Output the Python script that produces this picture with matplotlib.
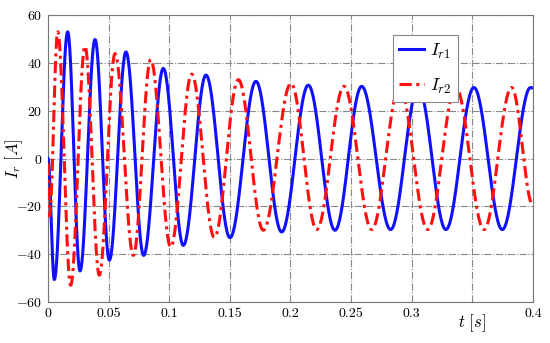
import numpy as np
import matplotlib
matplotlib.use("Agg")
import matplotlib.pyplot as plt

plt.rcParams['font.family'] = ['cmr10', 'DejaVu Serif']
plt.rcParams['mathtext.fontset'] = 'cm'
plt.rcParams['axes.unicode_minus'] = False
plt.rcParams['axes.formatter.use_mathtext'] = True

# turning points (time in s, current in A)
t_r1 = [0.0, 0.0052, 0.0162, 0.0264, 0.0388, 0.0506, 0.0643, 0.0789, 0.0951,
        0.1116, 0.1303, 0.1501, 0.1715, 0.1927, 0.2147, 0.2367, 0.2587,
        0.2826, 0.3054, 0.3282, 0.3513, 0.3747, 0.398, 0.4]
i_r1 = [0.0, -50.6, 53.0, -47.0, 49.8, -42.5, 44.6, -40.5, 37.7,
        -36.3, 34.9, -33.1, 32.3, -30.7, 30.7, -30.0, 30.2,
        -29.7, 29.7, -29.7, 29.7, -29.7, 29.7, 29.5]

t_r2 = [0.0, 0.0012, 0.0080, 0.0187, 0.0305, 0.0423, 0.0553, 0.0704, 0.0847,
        0.1012, 0.1185, 0.1372, 0.157, 0.1776, 0.2004, 0.2216, 0.2441,
        0.267, 0.290, 0.3132, 0.3364, 0.3596, 0.3824, 0.4]
i_r2 = [-2.0, -24.0, 53.0, -53.0, 47.0, -48.8, 43.9, -40.5, 41.4,
        -37.0, 35.3, -33.0, 33.0, -30.0, 31.4, -29.7, 30.2,
        -29.7, 29.7, -29.7, 29.7, -29.7, 29.7, -19.5]


def smooth(ts, vs, n=40):
    # half-cosine between consecutive turning points
    xs, ys = [], []
    for k in range(len(ts) - 1):
        u = np.linspace(0, 1, n, endpoint=False)
        w = (1 - np.cos(np.pi * u)) / 2
        xs.append(ts[k] + (ts[k + 1] - ts[k]) * u)
        ys.append(vs[k] + (vs[k + 1] - vs[k]) * w)
    xs.append([ts[-1]])
    ys.append([vs[-1]])
    return np.concatenate(xs), np.concatenate(ys)


fig = plt.figure(figsize=(5.5, 3.43), dpi=100)
ax = fig.add_axes([0.0873, 0.1195, 0.8817, 0.8365])

x1, y1 = smooth(t_r1, i_r1)
x2, y2 = smooth(t_r2, i_r2)
ax.plot(x1, y1, color='#1010ff', lw=2.2, label=r'$I_{r1}$', zorder=3)
ax.plot(x2, y2, color='#ff1010', lw=2.2, ls='-.', dashes=(4, 1.5, 1, 1.5),
        label=r'$I_{r2}$', zorder=3)

ax.set_xlim(0, 0.4)
ax.set_ylim(-60, 60)
ax.set_xticks([0, 0.05, 0.1, 0.15, 0.2, 0.25, 0.3, 0.35, 0.4])
ax.set_xticklabels(['0', '0.05', '0.1', '0.15', '0.2', '0.25', '0.3', '', '0.4'])
ax.set_yticks(range(-60, 61, 20))
ax.grid(True, ls='-.', color='#888888', lw=0.8)
ax.tick_params(length=0, labelsize=10, pad=4)
for s in ax.spines.values():
    s.set_color('#777777')

ax.set_ylabel(r'$I_r\ [A]$', fontsize=12)
ax.yaxis.set_label_coords(-0.048, 0.5)
ax.set_xlabel(r'$t\ [s]$', fontsize=12)
ax.xaxis.set_label_coords(0.875, -0.035)

leg = ax.legend(loc='upper left', bbox_to_anchor=(0.711, 0.93), fontsize=13,
                fancybox=False, framealpha=1, edgecolor='#888888',
                handlelength=1.4, handletextpad=0.3, borderpad=0.35,
                labelspacing=0.9, borderaxespad=0)
leg.get_frame().set_linewidth(0.8)

fig.savefig('out.png', dpi=100)
